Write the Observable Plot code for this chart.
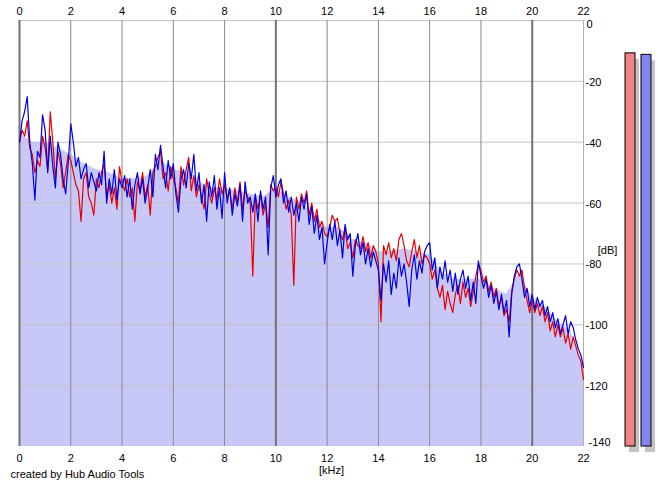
<!DOCTYPE html>
<html>
<head>
<meta charset="utf-8">
<script src="https://cdn.jsdelivr.net/npm/d3@7"></script>
<script src="https://cdn.jsdelivr.net/npm/@observablehq/plot@0.6"></script>
<style>
  html, body { margin: 0; padding: 0; background: white; }
  #chart svg { display: block; }
</style>
</head>
<body>
<div id="chart"></div>
<script>
// ---- data ----
const xTicks = [0, 2, 4, 6, 8, 10, 12, 14, 16, 18, 20, 22];
const yTicks = [0, -20, -40, -60, -80, -100, -120, -140];
const yTickLabels = ["0", "-20", "-40", "-60", "-80", "-100", "-120", "-140"];
const freqStep = 0.1; // kHz between spectrum samples

const blueDb = [
  -40, -33, -30, -25, -40, -47, -59, -43, -45, -31,
  -36, -50, -38, -48, -55, -40, -44, -52, -57, -47,
  -34, -40, -48, -45, -52, -49, -47, -55, -50, -53,
  -56, -50, -54, -43, -60, -52, -57, -49, -59, -52,
  -55, -51, -58, -52, -62, -54, -50, -57, -52, -60,
  -55, -49, -58, -44, -49, -41, -48, -55, -46, -52,
  -47, -57, -63, -52, -49, -55, -47, -52, -44, -56,
  -50, -60, -54, -66, -53, -58, -51, -62, -55, -65,
  -50, -60, -55, -64, -57, -61, -54, -66, -53, -60,
  -58, -63, -57, -66, -56, -62, -58, -77, -55, -51,
  -58, -54, -52, -60, -56, -63, -58, -64, -60, -66,
  -58, -62, -57, -67, -61, -70, -64, -72, -68, -80,
  -73, -67, -72, -66, -74, -69, -78, -67, -72, -70,
  -84, -74, -70, -77, -73, -80, -75, -81, -76, -79,
  -82, -92, -80, -86, -79, -90, -83, -88, -78, -84,
  -80, -86, -94, -82, -77, -85, -79, -83, -76, -74,
  -73, -82, -78, -88, -81, -85, -79, -86, -82, -89,
  -83, -90, -85, -82, -88, -84, -92, -86, -93, -79,
  -84, -88, -85, -91, -87, -93, -89, -95, -90, -96,
  -92, -104, -90, -84, -81, -80, -85, -91, -88, -94,
  -90, -95, -91, -94, -92, -97, -94, -99, -96, -101,
  -98, -103, -100, -97, -103, -99, -101, -105, -108, -110,
  -114
];

const redDb = [
  -40, -36, -38, -33, -42, -44, -50, -46, -48, -38,
  -42, -49, -30, -40, -52, -43, -47, -55, -50, -44,
  -46, -50, -54, -56, -66, -52, -50, -58, -60, -64,
  -52, -55, -50, -47, -58, -54, -60, -55, -62, -48,
  -53, -56, -52, -58, -55, -66, -53, -56, -50, -58,
  -54, -64, -50, -48, -45, -43, -52, -50, -56, -48,
  -52, -55, -60, -48, -54, -49, -45, -56, -51, -58,
  -54, -58, -62, -52, -57, -60, -55, -59, -52, -57,
  -54, -58, -56, -62, -55, -60, -53, -62, -56, -58,
  -60, -84, -58, -62, -57, -64, -60, -68, -54, -56,
  -55, -58, -53, -57, -62, -59, -64, -87, -58, -62,
  -57, -60, -56, -64, -60, -66, -62, -68, -66, -70,
  -71, -68, -64, -66, -65, -70, -72, -68, -75, -73,
  -78, -72, -74, -75, -71, -76, -73, -78, -74, -76,
  -80, -99, -74, -77, -73, -78, -75, -79, -72, -70,
  -74, -79, -81, -76, -72, -78, -74, -80, -77, -78,
  -80, -85, -82, -88, -91, -87, -95, -89, -93, -96,
  -90, -87, -93, -86, -91, -88, -94, -89, -84, -80,
  -82, -86, -84, -89, -86, -91, -88, -94, -91, -97,
  -95, -99, -89, -85, -82, -84, -82, -88, -92, -96,
  -92, -96, -93, -97, -94, -99, -96, -102, -99, -104,
  -100, -104, -101, -106, -103, -108, -104, -107, -110, -112,
  -118
];

// average level (area fill), every 0.5 kHz
const avgStep = 0.5;
const avgDb = [
  -37, -40, -40, -42, -44, -47, -49, -50, -52, -52,
  -51, -46, -49, -50, -53, -55, -55, -56, -57, -58,
  -55, -58, -60, -64, -68, -68, -72, -73, -76, -76,
  -75, -76, -77, -83, -85, -85, -85, -88, -90, -83,
  -91, -94, -99, -102, -114
];

// level meters (left / right channel peak level, dB)
const meterChannels = ["L", "R"];
const meterLevels = [-10.8, -11.3];

// ---- build tables ----
const red = redDb.map((db, i) => ({f: i * freqStep, db}));
const blue = blueDb.map((db, i) => ({f: i * freqStep, db}));
const avg = avgDb.map((db, i) => ({f: i * avgStep, db}));
const meters = meterChannels.map((c, i) => ({c, i, level: meterLevels[i]}));
const yLabels = yTicks.map((v, i) => ({v, label: yTickLabels[i]}));

// pixel helpers for layout (plot area: x 0..22 kHz -> 19..583 px)
const pxToKHz = p => (p - 19) * 22 / 564;
const meterFill = ["#f08484", "#8484f0"];
const meterLeft = [625, 641];

const chart = Plot.plot({
  width: 665,
  height: 487,
  marginTop: 20,
  marginBottom: 41,
  marginLeft: 19,
  marginRight: 0,
  x: {domain: [0, pxToKHz(665)], axis: null},
  y: {domain: [-140, 0], axis: null},
  style: {fontFamily: "'Liberation Sans', Arial, sans-serif", fontSize: "11px", background: "white", color: "black"},
  marks: [
    Plot.areaY(avg, {x: "f", y1: -140, y2: "db", fill: "#c8c8f8"}),
    Plot.ruleY(yTicks.filter(d => d > -140), {x1: 0, x2: 22, y: d => d, stroke: "#c4c4c4", strokeWidth: 1}),
    Plot.ruleX(xTicks, {
      x: d => d, y1: -140, y2: 0,
      stroke: d => d % 10 === 0 ? "#727272" : d === 22 ? "#b0b0b0" : "#8a8a8a",
      strokeWidth: d => d % 10 === 0 ? 2 : 1
    }),
    Plot.line(red, {x: "f", y: "db", stroke: "#e80000", strokeWidth: 1.2}),
    Plot.line(blue, {x: "f", y: "db", stroke: "#0000e0", strokeWidth: 1.2}),
    // top tick labels
    Plot.text(xTicks, {x: d => d, y: 0, text: d => String(d), dy: -9}),
    // bottom tick labels
    Plot.text(xTicks, {x: d => d, y: -140, text: d => String(d), dy: 12}),
    // right dB labels
    Plot.text(yLabels.filter(d => d.v === 0), {x: 22, y: "v", text: "label", textAnchor: "start", dx: 3, dy: 4}),
    Plot.text(yLabels.filter(d => d.v < 0 && d.v > -140), {x: 22, y: "v", text: "label", textAnchor: "start", dx: 2, dy: 1}),
    Plot.text(yLabels.filter(d => d.v === -140), {x: 22, y: "v", text: "label", textAnchor: "start", dx: 5, dy: -4}),
    Plot.text(["[kHz]"], {x: pxToKHz(331), y: -140, dy: 24}),
    Plot.text(["[dB]"], {x: pxToKHz(607), y: -75.5}),
    Plot.text(["created by Hub Audio Tools"], {frameAnchor: "bottom-left", dx: -9, dy: 31, textAnchor: "start"}),
    // level meters: shadow then bar
    Plot.rect(meters, {
      x1: d => pxToKHz(meterLeft[d.i]), x2: d => pxToKHz(meterLeft[d.i] + 10),
      y1: -140, y2: "level", fill: "#c4c4c4", dx: 4, dy: 6
    }),
    Plot.rect(meters, {
      x1: d => pxToKHz(meterLeft[d.i]), x2: d => pxToKHz(meterLeft[d.i] + 10),
      y1: -140, y2: "level", fill: d => meterFill[d.i], stroke: "black", strokeWidth: 1
    })
  ]
});
document.getElementById("chart").appendChild(chart);
</script>
</body>
</html>
